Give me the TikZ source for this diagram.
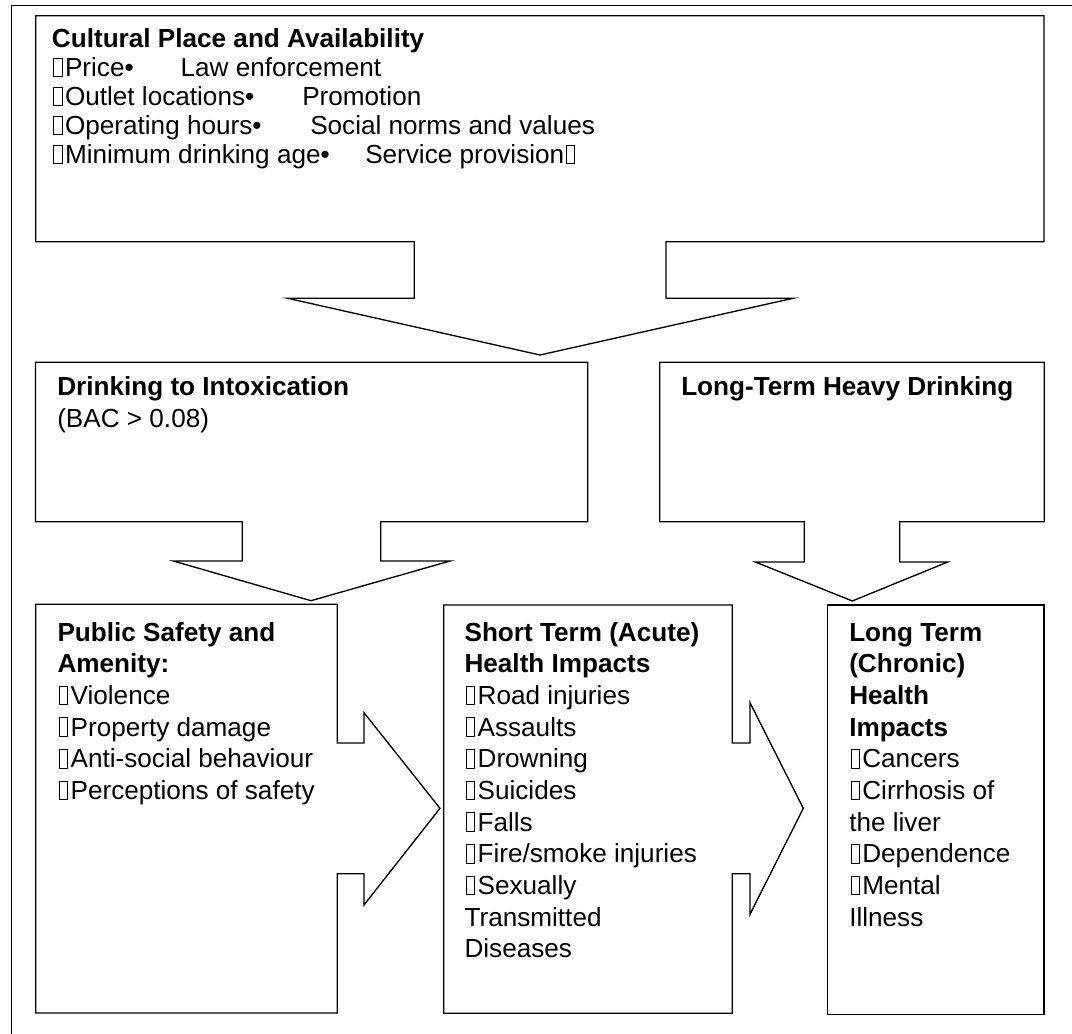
\documentclass[tikz,border=0pt]{standalone}
\usepackage{fontspec}
\setmainfont{Liberation Sans}
\newcommand{\tofu}{\hbox to 0.5em{\kern0.05em{\fboxsep=0pt\fboxrule=0.7pt\framebox{\kern0.28em\rule{0pt}{0.68em}}}\hss}}
\tikzset{
  callout/.style={draw=black, line width=1pt, fill=white},
  frameline/.style={draw=black, line width=1.1pt},
  txt/.style={anchor=base west, inner sep=0pt, font=\fontsize{19.6pt}{23.5pt}\selectfont},
  btxt/.style={txt, font=\fontsize{19.6pt}{23.5pt}\selectfont\bfseries},
}
\begin{document}
\begin{tikzpicture}[x=0.75pt,y=-0.75pt]
\useasboundingbox (0,0) rectangle (1072,1034);
\fill[white] (0,0) rectangle (1072,1034);
% outer frame (cut by the page at right and bottom)
\draw[frameline] (11.7,1034) -- (11.7,5.7) -- (1072,5.7);

% Cultural Place and Availability (down arrow callout)
\draw[callout] (35.7,15.7) -- (1044,15.7) -- (1044,241.7) -- (666,241.7) -- (666,298.3) -- (793,298.3) -- (540,355) -- (287.7,298.3) -- (414.3,298.3) -- (414.3,241.7) -- (35.7,241.7) -- cycle;
% Drinking to Intoxication
\draw[callout] (35.5,362.3) -- (587.7,362.3) -- (587.7,521.7) -- (380.7,521.7) -- (380.7,561) -- (450,561) -- (311,600.7) -- (173.3,561) -- (242.3,561) -- (242.3,521.7) -- (35.5,521.7) -- cycle;
% Long-Term Heavy Drinking
\draw[callout] (659.7,362.3) -- (1044.3,362.3) -- (1044.3,521.7) -- (899.7,521.7) -- (899.7,562) -- (947.7,562) -- (852.3,601) -- (755.3,562) -- (804.3,562) -- (804.3,521.7) -- (659.7,521.7) -- cycle;
% Public Safety (right arrow callout)
\draw[callout] (35.7,604.3) -- (337.3,604.3) -- (337.3,743) -- (364,743) -- (364,712.7) -- (440,808.3) -- (364,905) -- (364,873.7) -- (337.3,873.7) -- (337.3,1013) -- (35.7,1013) -- cycle;
% Short Term (right arrow callout)
\draw[callout] (443.7,605) -- (732.3,605) -- (732.3,743) -- (750,743) -- (750,702.7) -- (803.3,808.3) -- (750,914.3) -- (750,873.7) -- (732.3,873.7) -- (732.3,1013.3) -- (443.7,1013.3) -- cycle;
% Long Term (Chronic)
\draw[callout] (827.7,605) rectangle (1044,1014.3);

% texts: Cultural Place
\node[btxt] (cpa) at (51.7,47.5) {Cultural Place and Availability};
\node[txt] (cpa1) at (51.7,76.5) {\tofu Price•};
\node[txt] (cpa1b) at (180.4,76.5) {Law enforcement};
\node[txt] (cpa2) at (51.7,105.5) {\tofu Outlet locations•};
\node[txt] (cpa2b) at (302,105.5) {Promotion};
\node[txt] (cpa3) at (51.7,134.5) {\tofu Operating hours•};
\node[txt] (cpa3b) at (310,134.5) {Social norms and values};
\node[txt] (cpa4) at (51.7,163.5) {\tofu Minimum drinking age•};
\node[txt] (cpa4b) at (365,163.5) {Service provision\tofu};

% Drinking to Intoxication
\node[btxt] (dti) at (57,396) {Drinking to Intoxication};
\node[txt] (bac) at (57,427.5) {(BAC > 0.08)};
% Long-Term Heavy Drinking
\node[btxt] (lthd) at (681,396) {Long-Term Heavy Drinking};

% Public Safety
\node[btxt] (ps1) at (57.3,641) {Public Safety and};
\node[btxt] (ps2) at (57.3,672.67) {Amenity:};
\node[txt] (ps3) at (57.3,704.33) {\tofu Violence};
\node[txt] (ps4) at (57.3,736) {\tofu Property damage};
\node[txt] (ps5) at (57.3,767.67) {\tofu Anti-social behaviour};
\node[txt] (ps6) at (57.3,799.33) {\tofu Perceptions of safety};

% Short Term
\node[btxt] (st1) at (464.3,641) {Short Term (Acute)};
\node[btxt] (st2) at (464.3,672.67) {Health Impacts};
\node[txt] (st3) at (464.3,704.33) {\tofu Road injuries};
\node[txt] (st4) at (464.3,736) {\tofu Assaults};
\node[txt] (st5) at (464.3,767.67) {\tofu Drowning};
\node[txt] (st6) at (464.3,799.33) {\tofu Suicides};
\node[txt] (st7) at (464.3,831) {\tofu Falls};
\node[txt] (st8) at (464.3,862.67) {\tofu Fire/smoke injuries};
\node[txt] (st9) at (464.3,894.33) {\tofu Sexually};
\node[txt] (st10) at (464.3,926) {Transmitted};
\node[txt] (st11) at (464.3,957.67) {Diseases};

% Long Term (Chronic)
\node[btxt] (lt1) at (849,641) {Long Term};
\node[btxt] (lt2) at (849,672.67) {(Chronic)};
\node[btxt] (lt3) at (849,704.33) {Health};
\node[btxt] (lt4) at (849,736) {Impacts};
\node[txt] (lt5) at (849,767.67) {\tofu Cancers};
\node[txt] (lt6) at (849,799.33) {\tofu Cirrhosis of};
\node[txt] (lt7) at (849,831) {the liver};
\node[txt] (lt8) at (849,862.67) {\tofu Dependence};
\node[txt] (lt9) at (849,894.33) {\tofu Mental};
\node[txt] (lt10) at (849,926) {Illness};
\end{tikzpicture}
\end{document}
